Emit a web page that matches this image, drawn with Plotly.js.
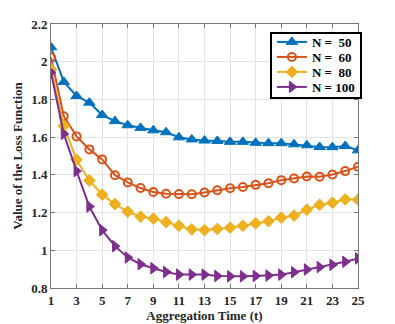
<!DOCTYPE html>
<html><head><meta charset="utf-8">
<script src="https://cdn.plot.ly/plotly-3.0.1.min.js"></script>
<style>html,body{margin:0;padding:0;background:#fff}#chart{width:395px;height:324px}</style>
</head><body><div id="chart"></div>
<script>
const t = [1,2,3,4,5,6,7,8,9,10,11,12,13,14,15,16,17,18,19,20,21,22,23,24,25];
const n50 = [2.077,1.893,1.818,1.783,1.717,1.685,1.663,1.649,1.636,1.626,1.599,1.588,1.582,1.580,1.575,1.575,1.570,1.568,1.568,1.562,1.557,1.548,1.547,1.553,1.530];
const n60 = [2.024,1.711,1.604,1.535,1.482,1.398,1.360,1.330,1.309,1.300,1.298,1.297,1.306,1.318,1.329,1.336,1.347,1.356,1.372,1.381,1.391,1.390,1.402,1.420,1.443];
const n80 = [1.960,1.660,1.480,1.370,1.295,1.245,1.205,1.178,1.168,1.149,1.130,1.111,1.107,1.113,1.120,1.130,1.143,1.154,1.173,1.184,1.215,1.241,1.252,1.270,1.268];
const n100 = [1.943,1.617,1.420,1.232,1.107,1.022,0.962,0.926,0.905,0.885,0.871,0.871,0.871,0.864,0.862,0.862,0.864,0.866,0.871,0.884,0.898,0.911,0.923,0.939,0.957];
const names = ['N =\u00a0\u00a050','N =\u00a0\u00a060','N =\u00a0\u00a080','N = 100'];
const colors = ['#0072BD','#D95319','#EDB120','#7E2F8E'];
const symbols = ['triangle-up','circle-open','diamond','triangle-right'];
const series = [n50,n60,n80,n100];
const sizes = [10,8,9,10];
const traces = series.map((y,i)=>({
  x: t, y: y, name: names[i], type:'scatter', mode:'lines+markers',
  line:{color:colors[i], width:2},
  marker:{symbol:symbols[i], size:sizes[i], color:colors[i], line:{color:colors[i], width: i===1?2:1}}
}));
const ff = '"Liberation Serif","Times New Roman",serif';
const layout = {
  width:395, height:324,
  margin:{l:51,r:37,t:24,b:36},
  paper_bgcolor:'#fff', plot_bgcolor:'#fff',
  font: {family:ff, color:'#262626'},
  showlegend:true,
  legend:{x:0.713, y:0.97, xanchor:'left', yanchor:'top', bgcolor:'#fff', bordercolor:'#000', borderwidth:2,
    font:{family:ff, size:13, color:'#000', weight:'bold'}, tracegroupgap:0, itemwidth:30},
  xaxis:{range:[1,25], tickvals:[1,3,5,7,9,11,13,15,17,19,21,23,25], showgrid:true, gridcolor:'#e3e3e3',
    zeroline:false, showline:true, linecolor:'#777', linewidth:1, mirror:'ticks', ticks:'inside', ticklen:4, tickcolor:'#777',
    tickfont:{family:ff, size:13, color:'#262626', weight:'bold'},
    title:{text:'Aggregation Time (t)', font:{family:ff, size:13, color:'#262626', weight:'bold'}, standoff:4}},
  yaxis:{range:[0.8,2.2], tickvals:[0.8,1,1.2,1.4,1.6,1.8,2,2.2], ticktext:['0.8','1','1.2','1.4','1.6','1.8','2','2.2'],
    showgrid:true, gridcolor:'#e3e3e3',
    zeroline:false, showline:true, linecolor:'#777', linewidth:1, mirror:'ticks', ticks:'inside', ticklen:4, tickcolor:'#777',
    tickfont:{family:ff, size:13, color:'#262626', weight:'bold'},
    title:{text:'Value of the Loss Function', font:{family:ff, size:13, color:'#262626', weight:'bold'}, standoff:5}}
};
Plotly.newPlot('chart', traces, layout, {displayModeBar:false, staticPlot:true}).then(gd=>{
  // tighten legend row spacing to match the reference
  const items = gd.querySelectorAll('.legend .traces');
  const rowH = 15, top = 10;
  items.forEach((el,i)=>{
    const m = /translate\(\s*([-\d.]+)[ ,]+([-\d.]+)\s*\)/.exec(el.getAttribute('transform')||'');
    const x0 = m ? m[1] : 0;
    el.setAttribute('transform', 'translate(' + x0 + ',' + (top + i*rowH) + ')');
  });
  const bg = gd.querySelector('.legend .bg');
  if (bg) bg.setAttribute('height', top + (items.length-1)*rowH + 10 + 'px');
});
</script>
</body></html>
